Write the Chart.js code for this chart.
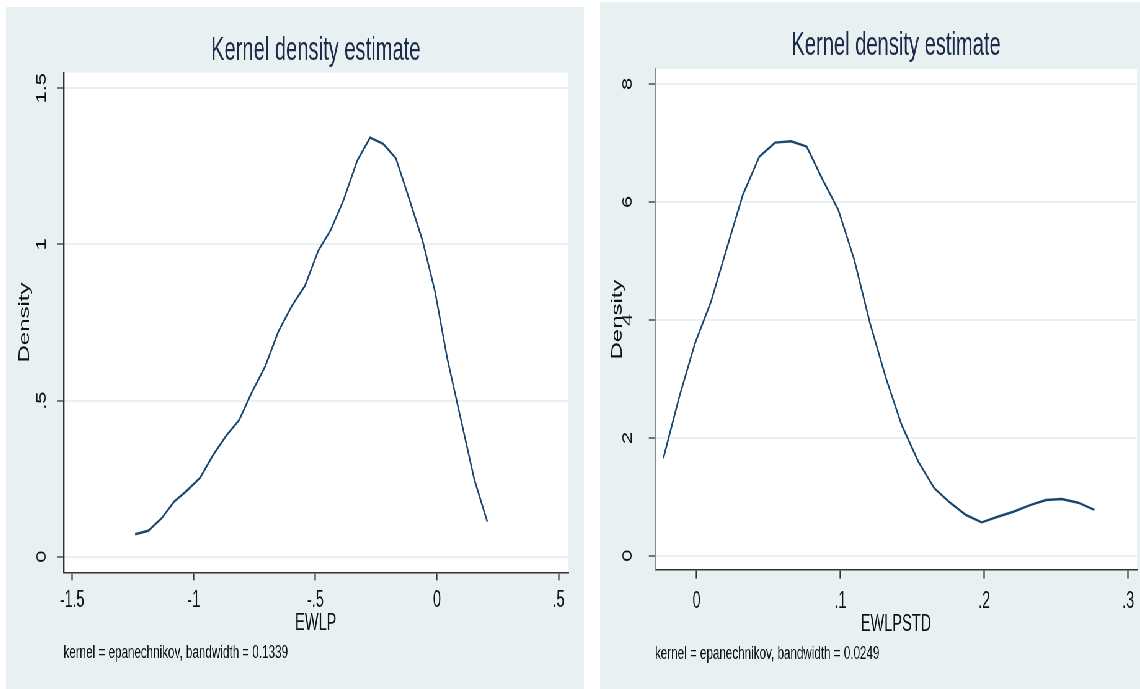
<!DOCTYPE html>
<html>
<head>
<meta charset="utf-8">
<script src="https://cdn.jsdelivr.net/npm/chart.js@4.4.1/dist/chart.umd.min.js"></script>
<style>
  html, body { margin: 0; padding: 0; background: #fff; }
  body { width: 1140px; height: 689px; position: relative; overflow: hidden; }
  /* Stata export is squeezed sideways, so each panel is drawn wide and scaled back */
  .panel { position: absolute; transform-origin: 0 0; background: #e8f0f2; }
  #p1 { left: 6px; top: 7px; width: 932px; height: 682px; transform: scaleX(0.6202); }
  #p2 { left: 600px; top: 2px; width: 871px; height: 687px; transform: scaleX(0.62); }
</style>
</head>
<body>
<div class="panel" id="p1"><canvas id="chartEwlp"></canvas></div>
<div class="panel" id="p2"><canvas id="chartStd"></canvas></div>
<script>
// EWLP density curve
const ewlpX = [-1.241, -1.187, -1.132, -1.081, -1.029, -0.974, -0.920, -0.867, -0.813, -0.762,
  -0.707, -0.652, -0.597, -0.543, -0.488, -0.437, -0.385, -0.328, -0.275, -0.221,
  -0.169, -0.114, -0.060, -0.008, 0.042, 0.097, 0.154, 0.207];
const ewlpY = [0.072, 0.083, 0.123, 0.176, 0.211, 0.253, 0.326, 0.387, 0.438, 0.525,
  0.608, 0.721, 0.803, 0.867, 0.980, 1.046, 1.140, 1.268, 1.342, 1.322,
  1.276, 1.145, 1.014, 0.849, 0.636, 0.444, 0.246, 0.112];

// EWLPSTD density curve
const stdX = [-0.0230, -0.0119, -0.0010, 0.0101, 0.0211, 0.0322, 0.0437, 0.0546, 0.0657, 0.0766,
  0.0878, 0.0986, 0.1097, 0.1206, 0.1317, 0.1426, 0.1542, 0.1653, 0.1762, 0.1873,
  0.1982, 0.2093, 0.2202, 0.2318, 0.2429, 0.2538, 0.2653, 0.2765];
const stdY = [1.652, 2.697, 3.602, 4.308, 5.214, 6.118, 6.767, 7.005, 7.028, 6.937,
  6.372, 5.863, 5.015, 3.942, 3.009, 2.217, 1.594, 1.143, 0.899, 0.690,
  0.566, 0.661, 0.746, 0.859, 0.945, 0.962, 0.899, 0.776];

const ewlpXTicks = [-1.5, -1, -0.5, 0, 0.5];
const ewlpYTicks = [0, 0.5, 1, 1.5];
const stdXTicks = [0, 0.1, 0.2, 0.3];
const stdYTicks = [0, 2, 4, 6, 8];

const navy = '#1a476f';
const bg = '#e8f0f2';
const family = '"Liberation Sans", Arial, sans-serif';
Chart.defaults.font.family = family;

// Stata drops the leading zero: .5, -.5, .1
function stataLabel(v) {
  return String(v).replace(/^(-?)0\./, '$1.');
}

const plotRegion = {
  id: 'plotRegion',
  beforeDraw(chart) {
    const {ctx, chartArea: a} = chart;
    ctx.save();
    ctx.fillStyle = '#fff';
    ctx.fillRect(a.left, a.top, a.width, a.height);
    ctx.restore();
  }
};

function densityChart(id, xs, ys, xTicks, yTicks, p) {
  return new Chart(document.getElementById(id), {
    type: 'scatter',
    data: {
      datasets: [{
        data: xs.map((x, i) => ({x: x, y: ys[i]})),
        showLine: true,
        borderColor: navy,
        borderWidth: 2.4,
        pointRadius: 0,
        tension: 0,
        fill: false
      }]
    },
    options: {
      responsive: true,
      maintainAspectRatio: false,
      animation: false,
      events: [],
      layout: { padding: { left: 0, top: 0, right: p.padRight, bottom: 0 } },
      plugins: {
        legend: { display: false },
        tooltip: { enabled: false },
        title: {
          display: true,
          text: 'Kernel density estimate',
          fullSize: false,
          color: '#1c2b4a',
          font: { size: 32.5, weight: 'normal' },
          padding: { top: 25, bottom: p.titleBottom }
        },
        subtitle: {
          display: true,
          position: 'bottom',
          align: 'start',
          fullSize: false,
          text: p.note,
          color: '#111',
          font: { size: 18.8 },
          padding: { top: p.noteTop, bottom: p.noteBottom }
        }
      },
      scales: {
        x: {
          type: 'linear',
          min: p.xMin,
          max: p.xMax,
          afterBuildTicks: (s) => { s.ticks = xTicks.map(v => ({value: v})); },
          afterFit: (s) => { s.height = p.xHeight; },
          grid: { drawOnChartArea: false, tickLength: p.xTickLen, tickWidth: 2.2, tickColor: '#333' },
          border: { color: '#333', width: 1.6 },
          ticks: {
            callback: stataLabel,
            padding: p.xTickPad,
            autoSkip: false,
            maxRotation: 0,
            color: '#111',
            font: { size: 23 }
          },
          title: { display: true, text: p.xTitle, color: '#111', font: { size: 23.5 }, padding: 0 }
        },
        y: {
          type: 'linear',
          min: p.yMin,
          max: p.yMax,
          afterBuildTicks: (s) => { s.ticks = yTicks.map(v => ({value: v})); },
          afterFit: (s) => { s.width = p.yWidth; },
          grid: { color: bg, lineWidth: 2, tickLength: 10, tickWidth: 1.3, tickColor: '#333' },
          border: { color: p.yAxisColor, width: 2.4 },
          ticks: {
            callback: stataLabel,
            padding: p.yTickPad,
            minRotation: 90,
            maxRotation: 90,
            crossAlign: 'center',
            color: '#111',
            font: { size: 22 }
          },
          title: { display: true, text: 'Density', color: '#111', font: { size: 24 }, padding: { top: p.yTitlePad, bottom: 0 } }
        }
      }
    },
    plugins: [plotRegion]
  });
}

densityChart('chartEwlp', ewlpX, ewlpY, ewlpXTicks, ewlpYTicks, {
  xMin: -1.5354, xMax: 0.5386, yMin: -0.050, yMax: 1.550,
  xTitle: 'EWLP',
  note: 'kernel = epanechnikov, bandwidth = 0.1339',
  padRight: 25.8, titleBottom: 1.7,
  yWidth: 92.7, yTickPad: 9.4, yTitlePad: 15.8, yAxisColor: '#333',
  xHeight: 64.9, xTickLen: 8, xTickPad: 7,
  noteTop: 4.6, noteBottom: 24.6
});

densityChart('chartStd', stdX, stdY, stdXTicks, stdYTicks, {
  xMin: -0.0288, xMax: 0.3061, yMin: -0.243, yMax: 8.254,
  xTitle: 'EWLPSTD',
  note: 'kernel = epanechnikov, bandwidth = 0.0249',
  padRight: 4.9, titleBottom: 3,
  yWidth: 88.7, yTickPad: 27.4, yTitlePad: 13.8, yAxisColor: '#8a8a8a',
  xHeight: 68.2, xTickLen: 8.5, xTickPad: 9.3,
  noteTop: 3.9, noteBottom: 24.3
});
</script>
</body>
</html>
